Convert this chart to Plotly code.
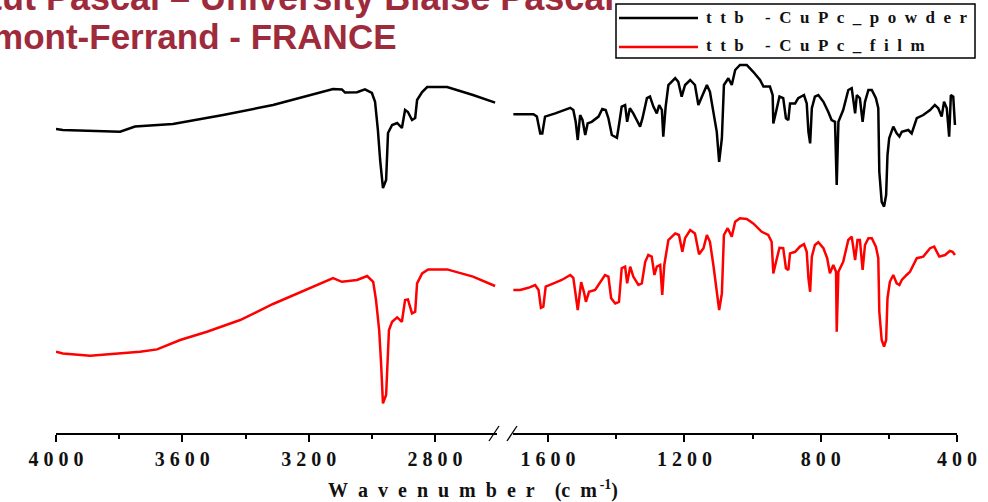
import plotly.graph_objects as go

# ---------------- data (wavenumber in cm-1, transmittance in arbitrary units) ----------------
powder_left_wn = [4000, 3978, 3797, 3750, 3630, 3471, 3313, 3155, 3123, 3095,
                  3085, 3047, 3022, 3000, 2990, 2981, 2974, 2965, 2955, 2949,
                  2936, 2920, 2905, 2895, 2886, 2873, 2863, 2857, 2841, 2825,
                  2762, 2680, 2610]
powder_left_t = [76.0, 75.75, 75.3, 76.6, 77.25, 79.5, 82, 85.25, 86, 85.9,
                 85.1, 85.2, 85.9, 85, 82.8, 75.75, 68.25, 61.25, 63.25, 75,
                 77, 77.5, 76.25, 80.75, 80.25, 78.25, 78.75, 83.25, 85.25, 86.5,
                 86.5, 84.5, 82.6]

powder_right_wn = [1702, 1643, 1633, 1623, 1617, 1609, 1579, 1555, 1535, 1526,
                   1519, 1513, 1506, 1499, 1491, 1484, 1472, 1452, 1441, 1431,
                   1423, 1413, 1398, 1392, 1384, 1374, 1368, 1360, 1350, 1340,
                   1330, 1323, 1310, 1301, 1291, 1281, 1274, 1266, 1262, 1255,
                   1247, 1227, 1218, 1208, 1198, 1183, 1169, 1159, 1147, 1134,
                   1125, 1115, 1105, 1098, 1090, 1084, 1071, 1061, 1051, 1037,
                   1017, 998, 978, 968, 949, 941, 939, 931, 921, 910,
                   902, 895, 890, 875, 866, 849, 841, 836, 831, 826,
                   817, 807, 792, 778, 768, 758, 753, 748, 734, 719,
                   709, 699, 694, 685, 677, 670, 660, 650, 638, 631,
                   628, 621, 614, 608, 604, 599, 587, 577, 569, 562,
                   543, 533, 518, 499, 479, 465, 455, 445, 438, 430,
                   423, 418, 411, 406]
powder_right_t = [79.7, 79.7, 79.1, 74.9, 74.9, 79.1, 79.9, 80.75, 81.3, 80.75,
                  77.8, 73.25, 79.5, 78.25, 74.5, 77.4, 77.8, 79.1, 81, 80.75,
                  78.7, 74.5, 73.8, 77, 81.6, 82, 77.8, 81.2, 79.9, 78.25,
                  76.6, 78.7, 83.7, 84.1, 81.6, 79.9, 82, 80.75, 74.1, 81.6,
                  87, 88.7, 87.8, 84.1, 87, 88.25, 87, 82, 84.5, 87,
                  85.3, 80.3, 75.3, 67.8, 73.7, 87, 88.7, 87, 90.75, 92,
                  92, 90.3, 88.25, 86.6, 86.6, 84.5, 77.4, 80.3, 84.1, 83.7,
                  78.7, 78.25, 82.4, 82.4, 83.7, 84.5, 82.4, 75.3, 72.4, 81.2,
                  84.1, 84.5, 82.8, 80.3, 78.25, 77.8, 62, 77.8, 80.75, 85.75,
                  86.2, 79.9, 84.5, 83.7, 77.8, 82.8, 85.75, 85.75, 83.7, 81.2,
                  65.3, 57.8, 56.6, 59.5, 69.5, 73.7, 76.6, 74.9, 74.1, 75.3,
                  75.75, 74.9, 78.7, 79.5, 80.75, 82, 81.2, 79.1, 82.8, 81.2,
                  74.1, 84.5, 84.1, 77]

film_left_wn = [4000, 3978, 3892, 3797, 3734, 3680, 3607, 3522, 3417, 3313,
                3205, 3123, 3095, 3047, 3015, 2996, 2987, 2977, 2971, 2968,
                2965, 2955, 2949, 2946, 2936, 2920, 2905, 2895, 2886, 2873,
                2863, 2857, 2841, 2822, 2762, 2680, 2610]
film_left_t = [20.3, 19.9, 19.3, 19.9, 20.3, 20.9, 23.25, 25.3, 28.25, 32.25,
               35.9, 38.7, 37.8, 38.25, 39.25, 37.8, 33.25, 25.75, 17.5, 10.3,
               7.4, 9.5, 18.25, 25.75, 27.8, 28.9, 27.8, 33.25, 33.4, 29.9,
               30.3, 37.4, 39.9, 40.9, 40.9, 39.1, 36.75]

film_right_wn = [1702, 1682, 1658, 1638, 1628, 1621, 1614, 1607, 1584, 1560,
                 1535, 1526, 1519, 1513, 1503, 1495, 1489, 1480, 1462, 1447,
                 1433, 1423, 1415, 1403, 1392, 1384, 1374, 1368, 1359, 1350,
                 1335, 1325, 1315, 1306, 1296, 1288, 1281, 1271, 1265, 1259,
                 1247, 1227, 1216, 1206, 1198, 1183, 1169, 1157, 1144, 1134,
                 1125, 1115, 1105, 1098, 1090, 1084, 1073, 1061, 1051, 1037,
                 1017, 998, 973, 954, 944, 939, 931, 921, 910, 902,
                 895, 890, 875, 861, 849, 841, 836, 831, 826, 817,
                 807, 792, 781, 773, 763, 755, 753, 748, 734, 719,
                 709, 699, 692, 685, 677, 670, 660, 650, 638, 631,
                 628, 621, 614, 608, 604, 597, 587, 577, 569, 562,
                 548, 538, 518, 499, 479, 467, 452, 435, 421, 413,
                 406]
film_right_t = [35.75, 35.75, 36.3, 37, 35.75, 31.3, 31.6, 36.6, 37.4, 38.25,
                39.5, 38.8, 34.5, 30.75, 37.7, 35.3, 32.8, 35.3, 35.75, 37.8,
                39.5, 39.1, 33.7, 32.4, 32.8, 41.2, 41.6, 37.4, 41.6, 39.1,
                37, 37.4, 42.8, 44.5, 44.1, 39.5, 41.6, 42, 34.5, 42,
                48.25, 49.9, 49.5, 45.3, 48.7, 50.75, 49.9, 44.7, 46.2, 49.5,
                47.8, 42, 35.3, 30.75, 34.9, 49.5, 51.2, 49.1, 52.8, 53.7,
                53.5, 52.4, 50.3, 49.5, 47.8, 39.9, 42.8, 46.3, 46.2, 41.2,
                40.75, 44.9, 45.3, 46.6, 47.2, 45.3, 38.7, 35.3, 44.1, 47,
                47.7, 46.2, 43.7, 39.9, 42, 40.3, 25.3, 40.3, 42.8, 48.25,
                49.1, 43.25, 48.25, 48.25, 40.75, 47, 48.7, 48.7, 46.6, 43.7,
                30.3, 23.25, 21.6, 23.25, 33.7, 37.8, 39.5, 37.4, 37, 38.25,
                39.5, 40.3, 43.7, 44.1, 46.2, 46.6, 44.1, 44.5, 45.5, 45.3,
                44.5]

left_ticks = [4000, 3600, 3200, 2800]
left_minor = [3800, 3400, 3000]
right_ticks = [1600, 1200, 800, 400]
right_minor = [1400, 1000, 600]
series_names = ["ttb -CuPc_powder", "ttb -CuPc_film"]
series_colors = ["#000000", "#FF0000"]

# ---------------- layout helpers (pixel -> paper) ----------------
W, H = 988, 502
ML, MR, MT, MB = 56, 31, 33, 69
PW, PH = W - ML - MR, H - MT - MB


def px(x):
    return (x - ML) / PW


def py(y):
    return (H - MB - y) / PH


def spaced(s, sep="\u2002"):
    return sep.join(list(s))


def tick_text(v):
    return " ".join(list(str(v)))


SERIF = "Liberation Serif, Times New Roman, serif"

fig = go.Figure()
line_w = 2.5
fig.add_trace(go.Scatter(x=powder_left_wn, y=powder_left_t, mode="lines", xaxis="x", yaxis="y",
                         line=dict(color=series_colors[0], width=line_w), name=series_names[0],
                         showlegend=False))
fig.add_trace(go.Scatter(x=powder_right_wn, y=powder_right_t, mode="lines", xaxis="x2", yaxis="y",
                         line=dict(color=series_colors[0], width=line_w), name=series_names[0],
                         showlegend=False))
fig.add_trace(go.Scatter(x=film_left_wn, y=film_left_t, mode="lines", xaxis="x", yaxis="y",
                         line=dict(color=series_colors[1], width=line_w), name=series_names[1],
                         showlegend=False))
fig.add_trace(go.Scatter(x=film_right_wn, y=film_right_t, mode="lines", xaxis="x2", yaxis="y",
                         line=dict(color=series_colors[1], width=line_w), name=series_names[1],
                         showlegend=False))

axis_common = dict(
    showline=True, linecolor="black", linewidth=1.5,
    ticks="outside", ticklen=7, tickwidth=1.5, tickcolor="black",
    tickfont=dict(family=SERIF, size=20, color="#111111", weight="bold"),
    showgrid=False, zeroline=False, anchor="y",
)

fig.update_layout(
    width=W, height=H,
    margin=dict(l=ML, r=MR, t=MT, b=MB),
    paper_bgcolor="white", plot_bgcolor="white",
    xaxis=dict(domain=[0, px(497)], range=[4000, 2604],
               tickvals=left_ticks, ticktext=[tick_text(v) for v in left_ticks],
               minor=dict(tickvals=left_minor, ticks="outside", ticklen=4, tickwidth=1.5,
                          tickcolor="black", showgrid=False),
               **axis_common),
    xaxis2=dict(domain=[px(513), 1], range=[1703, 400],
                tickvals=right_ticks, ticktext=[tick_text(v) for v in right_ticks],
                minor=dict(tickvals=right_minor, ticks="outside", ticklen=4, tickwidth=1.5,
                           tickcolor="black", showgrid=False),
                **axis_common),
    yaxis=dict(range=[0, 100], visible=False, domain=[0, 1]),
    showlegend=False,
)

shapes = []
# axis break marks "//"
for x0, x1 in [(489, 499), (507, 517)]:
    shapes.append(dict(type="line", xref="paper", yref="paper",
                       x0=px(x0), y0=py(441), x1=px(x1), y1=py(426),
                       line=dict(color="black", width=1.3)))
# legend box
shapes.append(dict(type="rect", xref="paper", yref="paper",
                   x0=px(616), x1=px(975), y0=py(58), y1=py(4),
                   line=dict(color="black", width=1.5), fillcolor="white", layer="above"))
for yy, col in [(18, series_colors[0]), (47, series_colors[1])]:
    shapes.append(dict(type="line", xref="paper", yref="paper",
                       x0=px(619), x1=px(698), y0=py(yy), y1=py(yy),
                       line=dict(color=col, width=2.6), layer="above"))

annotations = []
for yy, name in [(18, series_names[0]), (46, series_names[1])]:
    annotations.append(dict(xref="paper", yref="paper", x=px(704), y=py(yy),
                            xanchor="left", yanchor="middle", showarrow=False,
                            text=spaced(name),
                            font=dict(family=SERIF, size=17, color="#111111", weight="bold")))

# x-axis title
annotations.append(dict(xref="paper", yref="paper", x=px(473), y=py(489),
                        xanchor="center", yanchor="middle", showarrow=False,
                        text=spaced("Wavenumber") + "\u2002\u2002(c\u2002m<sup>\u2009-1</sup>)",
                        font=dict(family=SERIF, size=20, color="#111111", weight="bold")))

# slide header remnants (cropped at the top-left of the picture)
HEADER_COLOR = "#9E2B3B"
annotations.append(dict(xref="paper", yref="paper", x=px(616), y=py(20),
                        xanchor="right", yanchor="bottom", showarrow=False,
                        text="Institut Pascal \u2013 University Blaise Pascal",
                        font=dict(family="Liberation Sans, Arial, sans-serif", size=36,
                                  color=HEADER_COLOR, weight="bold")))
annotations.append(dict(xref="paper", yref="paper", x=px(399), y=py(58),
                        xanchor="right", yanchor="bottom", showarrow=False,
                        text="Clermont-Ferrand - FRANCE",
                        font=dict(family="Liberation Sans, Arial, sans-serif", size=35,
                                  color=HEADER_COLOR, weight="bold")))

fig.update_layout(shapes=shapes, annotations=annotations)
fig.write_html("out.html")
